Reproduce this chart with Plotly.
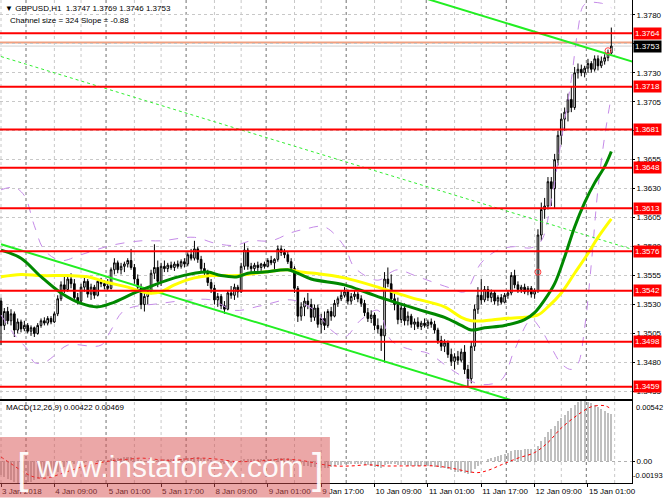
import plotly.graph_objects as go

# ---------------- data ----------------
bar_idx = list(range(184))
opens = [1.3533,1.3512,1.3524,1.3516,1.3522,1.3508,1.3515,1.3509,1.3512,1.3507,1.3510,1.3505,1.3512,1.3516,1.3514,1.3518,
1.3515,1.3522,1.3535,1.3547,1.3543,1.3552,1.3548,1.3536,1.3533,1.3545,1.3550,1.3539,1.3545,1.3538,1.3550,1.3548,
1.3546,1.3544,1.3560,1.3566,1.3560,1.3563,1.3565,1.3568,1.3562,1.3552,1.3545,1.3530,1.3537,1.3541,1.3557,1.3562,
1.3550,1.3563,1.3561,1.3564,1.3562,1.3565,1.3563,1.3567,1.3565,1.3573,1.3570,1.3578,1.3569,1.3561,1.3558,1.3549,
1.3544,1.3534,1.3537,1.3529,1.3526,1.3540,1.3538,1.3545,1.3541,1.3563,1.3577,1.3563,1.3561,1.3564,1.3562,1.3565,
1.3563,1.3568,1.3566,1.3569,1.3578,1.3575,1.3573,1.3567,1.3561,1.3544,1.3520,1.3528,1.3533,1.3530,1.3519,1.3527,
1.3513,1.3518,1.3512,1.3524,1.3520,1.3531,1.3535,1.3538,1.3541,1.3533,1.3537,1.3539,1.3535,1.3531,1.3523,1.3518,
1.3521,1.3512,1.3509,1.3503,1.3552,1.3548,1.3535,1.3530,1.3517,1.3527,1.3516,1.3520,1.3513,1.3515,1.3511,1.3514,
1.3512,1.3515,1.3513,1.3508,1.3499,1.3494,1.3497,1.3487,1.3481,1.3485,1.3482,1.3489,1.3474,1.3466,1.3494,1.3526,
1.3538,1.3534,1.3543,1.3536,1.3540,1.3533,1.3536,1.3532,1.3538,1.3540,1.3555,1.3547,1.3543,1.3545,1.3541,1.3544,
1.3539,1.3542,1.3590,1.3612,1.3615,1.3636,1.3630,1.3655,1.3676,1.3690,1.3696,1.3707,1.3700,1.3730,1.3733,1.3730,
1.3734,1.3738,1.3733,1.3742,1.3736,1.3740,1.3743,1.3747]
highs = [1.3536,1.3527,1.3528,1.3526,1.3524,1.3518,1.3517,1.3516,1.3514,1.3512,1.3511,1.3514,1.3518,1.3519,1.3520,1.3520,
1.3524,1.3538,1.3550,1.3556,1.3555,1.3557,1.3552,1.3540,1.3548,1.3553,1.3552,1.3548,1.3547,1.3552,1.3553,1.3551,
1.3552,1.3562,1.3570,1.3568,1.3566,1.3567,1.3570,1.3578,1.3565,1.3556,1.3548,1.3540,1.3545,1.3560,1.3582,1.3568,
1.3566,1.3568,1.3566,1.3567,1.3567,1.3568,1.3569,1.3570,1.3575,1.3578,1.3585,1.3580,1.3572,1.3566,1.3560,1.3552,
1.3547,1.3540,1.3539,1.3533,1.3542,1.3546,1.3548,1.3547,1.3566,1.3583,1.3579,1.3566,1.3566,1.3567,1.3566,1.3567,
1.3570,1.3572,1.3570,1.3581,1.3581,1.3578,1.3576,1.3570,1.3563,1.3546,1.3532,1.3536,1.3540,1.3535,1.3530,1.3530,
1.3522,1.3524,1.3526,1.3528,1.3534,1.3537,1.3542,1.3545,1.3543,1.3540,1.3542,1.3541,1.3538,1.3534,1.3527,1.3525,
1.3523,1.3518,1.3512,1.3558,1.3562,1.3556,1.3540,1.3536,1.3530,1.3531,1.3524,1.3522,1.3518,1.3519,1.3516,1.3518,
1.3517,1.3518,1.3516,1.3510,1.3503,1.3500,1.3499,1.3492,1.3488,1.3490,1.3492,1.3495,1.3478,1.3498,1.3530,1.3545,
1.3552,1.3546,1.3546,1.3543,1.3542,1.3538,1.3539,1.3540,1.3542,1.3558,1.3560,1.3550,1.3547,1.3548,1.3546,1.3546,
1.3544,1.3595,1.3618,1.3622,1.3640,1.3640,1.3660,1.3680,1.3695,1.3700,1.3712,1.3718,1.3735,1.3738,1.3737,1.3736,
1.3742,1.3740,1.3745,1.3745,1.3744,1.3746,1.3750,1.3769]
lows = [1.3495,1.3508,1.3513,1.3512,1.3502,1.3505,1.3506,1.3507,1.3505,1.3503,1.3502,1.3504,1.3510,1.3512,1.3512,1.3513,
1.3514,1.3520,1.3533,1.3540,1.3541,1.3544,1.3533,1.3530,1.3532,1.3541,1.3536,1.3534,1.3535,1.3537,1.3545,1.3543,
1.3542,1.3543,1.3556,1.3557,1.3556,1.3558,1.3562,1.3560,1.3548,1.3540,1.3526,1.3524,1.3530,1.3539,1.3552,1.3545,
1.3546,1.3558,1.3558,1.3560,1.3559,1.3561,1.3561,1.3562,1.3563,1.3568,1.3568,1.3566,1.3558,1.3555,1.3546,1.3540,
1.3530,1.3528,1.3526,1.3522,1.3525,1.3535,1.3534,1.3536,1.3540,1.3560,1.3560,1.3558,1.3558,1.3559,1.3559,1.3561,
1.3562,1.3564,1.3560,1.3567,1.3572,1.3570,1.3565,1.3558,1.3540,1.3515,1.3516,1.3520,1.3526,1.3515,1.3516,1.3510,
1.3505,1.3508,1.3510,1.3516,1.3519,1.3528,1.3533,1.3536,1.3530,1.3530,1.3534,1.3532,1.3528,1.3520,1.3515,1.3514,
1.3508,1.3505,1.3490,1.3480,1.3545,1.3532,1.3525,1.3513,1.3514,1.3512,1.3512,1.3510,1.3508,1.3509,1.3508,1.3510,
1.3509,1.3510,1.3505,1.3496,1.3490,1.3489,1.3484,1.3477,1.3474,1.3478,1.3480,1.3470,1.3459,1.3462,1.3490,1.3522,
1.3530,1.3532,1.3533,1.3532,1.3530,1.3529,1.3530,1.3531,1.3535,1.3538,1.3544,1.3540,1.3540,1.3539,1.3538,1.3536,
1.3535,1.3540,1.3585,1.3604,1.3612,1.3615,1.3613,1.3650,1.3668,1.3680,1.3688,1.3696,1.3698,1.3725,1.3727,1.3726,
1.3730,1.3730,1.3731,1.3732,1.3734,1.3737,1.3740,1.3746]
closes = [1.3512,1.3524,1.3516,1.3522,1.3508,1.3515,1.3509,1.3512,1.3507,1.3510,1.3505,1.3512,1.3516,1.3514,1.3518,1.3515,
1.3522,1.3535,1.3547,1.3543,1.3552,1.3548,1.3536,1.3533,1.3545,1.3550,1.3539,1.3545,1.3538,1.3550,1.3548,1.3546,
1.3544,1.3560,1.3566,1.3560,1.3563,1.3565,1.3568,1.3562,1.3552,1.3545,1.3530,1.3537,1.3541,1.3557,1.3562,1.3550,
1.3563,1.3561,1.3564,1.3562,1.3565,1.3563,1.3567,1.3565,1.3573,1.3570,1.3578,1.3569,1.3561,1.3558,1.3549,1.3544,
1.3534,1.3537,1.3529,1.3526,1.3540,1.3538,1.3545,1.3541,1.3563,1.3577,1.3563,1.3561,1.3564,1.3562,1.3565,1.3563,
1.3568,1.3566,1.3569,1.3578,1.3575,1.3573,1.3567,1.3561,1.3544,1.3520,1.3528,1.3533,1.3530,1.3519,1.3527,1.3513,
1.3518,1.3512,1.3524,1.3520,1.3531,1.3535,1.3538,1.3541,1.3533,1.3537,1.3539,1.3535,1.3531,1.3523,1.3518,1.3521,
1.3512,1.3509,1.3503,1.3552,1.3548,1.3535,1.3530,1.3517,1.3527,1.3516,1.3520,1.3513,1.3515,1.3511,1.3514,1.3512,
1.3515,1.3513,1.3508,1.3499,1.3494,1.3497,1.3487,1.3481,1.3485,1.3482,1.3489,1.3474,1.3466,1.3494,1.3526,1.3538,
1.3534,1.3543,1.3536,1.3540,1.3533,1.3536,1.3532,1.3538,1.3540,1.3555,1.3547,1.3543,1.3545,1.3541,1.3544,1.3539,
1.3542,1.3590,1.3612,1.3615,1.3636,1.3630,1.3655,1.3676,1.3690,1.3696,1.3707,1.3700,1.3730,1.3733,1.3730,1.3734,
1.3738,1.3733,1.3742,1.3736,1.3740,1.3743,1.3747,1.3753]

# moving averages (bar index, price)
ma_green_x = [0,6,12,18,24,29,33,40,46,52,58,62,66,71,74,79,86,89,93,103,110,116,126,133,138,141,145,151,157,160,163,166,169,172,175,178,181,183]
ma_green_y = [1.3577,1.3570,1.3554,1.3540,1.3531,1.3528,1.3531,1.3540,1.3547,1.3553,1.3557,1.3558,1.3555,1.3554,1.3557,1.3558,1.3560,1.3557,1.3552,1.3547,1.3540,1.3534,1.3525,1.3519,1.3512,1.3508,1.3510,1.3512,1.3517,1.3523,1.3534,1.3548,1.3571,1.3597,1.3618,1.3635,1.3649,1.3662]
ma_yellow_x = [0,6,12,20,26,32,38,44,48,52,58,63,71,79,86,90,94,103,113,123,133,138,141,145,151,157,161,164,168,172,176,179,183]
ma_yellow_y = [1.3554,1.3556,1.3555,1.3555,1.3554,1.3549,1.3545,1.3540,1.3541,1.3547,1.3553,1.3555,1.3555,1.3558,1.3560,1.3558,1.3557,1.3553,1.3545,1.3536,1.3528,1.3519,1.3516,1.3516,1.3518,1.3519,1.3521,1.3528,1.3540,1.3557,1.3574,1.3588,1.3604]

# bands
band_up_x = [0,4,7,10,13,18,24,33,42,48,58,64,70,75,81,87,91,97,103,106,113,117,119,125,135,139,144,149,154,159,162,165,168,171,173,175,180,183]
band_up_y = [1.3629,1.3631,1.3624,1.3598,1.3577,1.3568,1.3573,1.3581,1.3585,1.3585,1.3588,1.3583,1.3581,1.3585,1.3585,1.3592,1.3595,1.3597,1.3580,1.3562,1.3551,1.3558,1.3560,1.3554,1.3544,1.3541,1.3566,1.3577,1.3580,1.3579,1.3585,1.3620,1.3672,1.3724,1.3767,1.3789,1.3790,1.3786]
band_lo_x = [0,4,8,10,13,16,20,30,33,37,48,57,63,70,78,87,94,99,103,108,113,117,123,128,135,139,144,150,154,159,162,165,168,171,173,175,177,179,181,183]
band_lo_y = [1.3521,1.3504,1.3491,1.3480,1.3480,1.3486,1.3495,1.3495,1.3508,1.3525,1.3531,1.3534,1.3534,1.3525,1.3529,1.3534,1.3525,1.3508,1.3502,1.3517,1.3525,1.3499,1.3491,1.3488,1.3474,1.3467,1.3461,1.3465,1.3491,1.3517,1.3508,1.3493,1.3479,1.3474,1.3479,1.3510,1.3565,1.3630,1.3675,1.3710]

# equidistant channel (Channel size = 324, Slope = -0.88)
channel_x = [0, 190]
channel_low = [1.3582, 1.3415]
channel_size = 0.0324

levels = [1.3764, 1.3718, 1.3681, 1.3648, 1.3613, 1.3576, 1.3542, 1.3498, 1.3459]
bid_price = 1.3753
ask_price = 1.3756

price_ticks = [1.3780, 1.3755, 1.3730, 1.3705, 1.3680, 1.3655, 1.3630, 1.3605, 1.3580, 1.3555, 1.3530, 1.3505, 1.3480, 1.3455]
time_tick_idx = [0, 16, 32, 48, 64, 80, 96, 112, 128, 144, 160, 176]
time_tick_lab = ["3 Jan 2018", "4 Jan 09:00", "5 Jan 01:00", "5 Jan 17:00", "8 Jan 09:00", "9 Jan 01:00",
                 "9 Jan 17:00", "10 Jan 09:00", "11 Jan 01:00", "11 Jan 17:00", "12 Jan 09:00", "15 Jan 01:00"]

# MACD in units of 0.00001
macd_hist = [-120,-140,-160,-170,-180,-190,-190,-190,-180,-180,-170,-160,-150,-140,-130,-120,-110,-90,-70,-50,-40,-30,-20,-20,-10,-10,0,0,0,10,
 10,10,10,20,30,30,30,40,40,40,30,20,10,0,0,10,10,10,10,20,20,20,20,20,20,30,30,30,40,40,30,30,20,10,0,-10,-10,-20,-20,-10,-10,0,10,20,20,20,20,20,20,20,
 20,20,20,30,30,30,30,20,10,-10,-30,-40,-40,-50,-50,-60,-60,-60,-60,-50,-40,-30,-30,-20,-20,-20,-20,-20,-20,-30,-30,-40,-50,-50,-60,-30,-20,-20,-20,-30,
 -30,-30,-40,-40,-40,-40,-40,-40,-40,-40,-50,-50,-60,-60,-70,-80,-90,-90,-90,-100,-110,-100,-70,-40,-20,0,20,30,40,50,60,70,80,90,100,100,100,110,110,110,
 110,140,180,220,260,290,320,360,390,420,450,480,510,530,542,540,530,520,510,490,470,450,435,422]
signal_x = [0,3,6,9,12,15,18,21,24,27,30,34,38,42,46,50,55,60,65,70,75,80,85,90,95,100,105,110,115,120,125,130,135,140,143,146,150,155,160,164,168,174,177,181,183]
signal_y = [40,-20,-80,-130,-150,-140,-110,-80,-50,-30,-10,10,20,30,20,10,20,30,20,0,0,10,20,10,-20,-40,-40,-30,-40,-40,-40,-40,-60,-90,-100,-80,-30,30,80,170,300,440,490,500,469]
macd_hist = [v / 100000 for v in macd_hist]
signal_y = [v / 100000 for v in signal_y]
macd_top, macd_bottom = 0.00542, -0.00193

signal_marks_x = [161, 182]
signal_marks_y = [1.3558, 1.3749]

# ---------------- figure ----------------
FONT = "Liberation Sans"
fig = go.Figure()

fig.add_trace(go.Scatter(x=band_up_x, y=band_up_y, mode="lines", line=dict(color="#C58BE8", width=1, dash="dash", shape="spline"), hoverinfo="skip"))
fig.add_trace(go.Scatter(x=band_lo_x, y=band_lo_y, mode="lines", line=dict(color="#C58BE8", width=1, dash="dash", shape="spline"), hoverinfo="skip"))

ch_up = [v + channel_size for v in channel_low]
ch_mid = [v + channel_size / 2 for v in channel_low]
fig.add_trace(go.Scatter(x=channel_x, y=ch_mid, mode="lines", line=dict(color="#33EE33", width=1, dash="dot")))
fig.add_trace(go.Scatter(x=channel_x, y=channel_low, mode="lines", line=dict(color="#22EE22", width=2)))
fig.add_trace(go.Scatter(x=channel_x, y=ch_up, mode="lines", line=dict(color="#22EE22", width=2)))

fig.add_trace(go.Scatter(x=ma_yellow_x, y=ma_yellow_y, mode="lines", line=dict(color="#FFFF00", width=3, shape="spline")))
fig.add_trace(go.Scatter(x=ma_green_x, y=ma_green_y, mode="lines", line=dict(color="#008800", width=3, shape="spline")))

fig.add_trace(go.Candlestick(x=bar_idx, open=opens, high=highs, low=lows, close=closes,
                             increasing=dict(line=dict(color="black", width=1), fillcolor="white"),
                             decreasing=dict(line=dict(color="black", width=1), fillcolor="black"),
                             whiskerwidth=0, hoverinfo="skip"))
fig.add_trace(go.Scatter(x=signal_marks_x, y=signal_marks_y, mode="markers",
                         marker=dict(symbol="circle-open", color="#FF4040", size=6, line=dict(width=1))))

fig.add_trace(go.Bar(x=bar_idx, y=macd_hist, xaxis="x2", yaxis="y2", marker=dict(color="#C0C0C0", line=dict(width=0)), width=0.6))
fig.add_trace(go.Scatter(x=signal_x, y=signal_y, xaxis="x2", yaxis="y2", mode="lines",
                         line=dict(color="red", width=1, dash="dot", shape="spline")))

shapes = []
# vertical grid & day separators
for k in range(0, 190, 8):
    if k % 24 == 8:
        continue
    shapes.append(dict(type="line", xref="x", yref="paper", x0=k, x1=k, y0=0, y1=1,
                       line=dict(color="#C8C8C8", width=1, dash="dot"), layer="below"))
for k in range(0, 8):
    xs = 7.5 + 24 * k
    shapes.append(dict(type="line", xref="x", yref="paper", x0=xs, x1=xs, y0=0, y1=1,
                       line=dict(color="#707070", width=1, dash="dot"), layer="below"))
# price levels
for lv in levels:
    shapes.append(dict(type="line", xref="paper", yref="y", x0=0, x1=1, y0=lv, y1=lv,
                       line=dict(color="#FF0000", width=2), layer="above"))
shapes.append(dict(type="line", xref="paper", yref="y", x0=0, x1=1, y0=ask_price, y1=ask_price,
                   line=dict(color="#F0A080", width=2), layer="below"))
shapes.append(dict(type="line", xref="paper", yref="y", x0=0, x1=1, y0=bid_price, y1=bid_price,
                   line=dict(color="#D0D0D0", width=1), layer="below"))
# watermark band
shapes.append(dict(type="rect", xref="paper", yref="paper", x0=0, x1=0.522, y0=-0.03, y1=0.095,
                   fillcolor="rgba(215,80,80,0.5)", line=dict(width=0), layer="above"))

annotations = []
for lv in levels:
    annotations.append(dict(xref="paper", yref="y", x=1, y=lv, xanchor="left", yanchor="middle", xshift=1,
                            text="%.4f" % lv, showarrow=False, bgcolor="#FF0000",
                            font=dict(family=FONT, size=8, color="white"), borderpad=1))
annotations.append(dict(xref="paper", yref="y", x=1, y=bid_price, xanchor="left", yanchor="middle", xshift=1,
                        text="%.4f" % bid_price, showarrow=False, bgcolor="black",
                        font=dict(family=FONT, size=8, color="white"), borderpad=1))
annotations.append(dict(xref="paper", yref="y2", x=1, y=macd_top, xanchor="left", yanchor="middle", xshift=2, yshift=-6,
                        text="%.5f" % macd_top, showarrow=False, font=dict(family=FONT, size=7.5, color="black")))
annotations.append(dict(xref="paper", yref="y2", x=1, y=macd_bottom, xanchor="left", yanchor="middle", xshift=-1, yshift=8,
                        text="%.5f" % macd_bottom, showarrow=False, font=dict(family=FONT, size=7.5, color="black")))
annotations.append(dict(xref="paper", yref="paper", x=0, y=1, xanchor="left", yanchor="top", xshift=3, yshift=-2,
                        text="▼ GBPUSD,H1  %.4f %.4f %.4f %.4f" % (opens[-1], highs[-1], lows[-1], closes[-1]),
                        showarrow=False, font=dict(family=FONT, size=8, color="black")))
annotations.append(dict(xref="paper", yref="paper", x=0, y=1, xanchor="left", yanchor="top", xshift=8, yshift=-14,
                        text="Channel size = 324 Slope = -0.88", showarrow=False,
                        font=dict(family=FONT, size=8, color="black")))
annotations.append(dict(xref="paper", yref="y2", x=0, y=macd_top, xanchor="left", yanchor="middle", xshift=4, yshift=-6,
                        text="MACD(12,26,9) %.5f %.5f" % (macd_hist[-1], signal_y[-1]), showarrow=False,
                        font=dict(family=FONT, size=8, color="black")))
# watermark text
annotations.append(dict(xref="paper", yref="paper", x=0.269, y=0.034, xanchor="center", yanchor="middle",
                        text="www.instaforex.com", showarrow=False,
                        font=dict(family=FONT, size=30, color="rgba(255,255,255,0.95)")))
annotations.append(dict(xref="paper", yref="paper", x=0.036, y=0.03, xanchor="center", yanchor="middle",
                        text="[", showarrow=False, font=dict(family=FONT, size=42, color="rgba(255,255,255,0.95)")))
annotations.append(dict(xref="paper", yref="paper", x=0.503, y=0.03, xanchor="center", yanchor="middle",
                        text="]", showarrow=False, font=dict(family=FONT, size=42, color="rgba(255,255,255,0.95)")))

fig.update_layout(
    width=665, height=499, margin=dict(l=0, r=33, t=0, b=16),
    paper_bgcolor="white", plot_bgcolor="white", showlegend=False, template="none",
    font=dict(family=FONT, size=8, color="black"),
    bargap=0,
    xaxis=dict(domain=[0, 1], range=[-0.3, 189.2], anchor="y", showticklabels=False, showgrid=False,
               zeroline=False, showline=True, linecolor="black", linewidth=1, mirror=True,
               rangeslider=dict(visible=False), fixedrange=True),
    xaxis2=dict(domain=[0, 1], range=[-0.3, 189.2], anchor="y2", matches="x", tickmode="array",
                tickvals=time_tick_idx, ticktext=time_tick_lab, ticklabelposition="outside right",
                tickangle=0, ticks="outside", ticklen=3, tickcolor="black", showgrid=False, zeroline=False,
                showline=True, linecolor="black", linewidth=1, mirror=True,
                tickfont=dict(family=FONT, size=8, color="black")),
    yaxis=dict(domain=[0.17391, 1], range=[1.344851, 1.379277], side="right", tickmode="array",
               tickvals=price_ticks, ticktext=["%.4f" % v for v in price_ticks], ticks="outside", ticklen=2,
               tickcolor="black", showgrid=True, gridcolor="#C8C8C8", griddash="dot", zeroline=False,
               showline=True, linecolor="black", linewidth=1, mirror=True,
               tickfont=dict(family=FONT, size=8, color="black")),
    yaxis2=dict(domain=[0, 0.16977], range=[macd_bottom, macd_top], side="right", tickmode="array",
                tickvals=[0], ticktext=["0.00"], ticks="outside", ticklen=2, tickcolor="black",
                showgrid=True, gridcolor="#B0B0B0", griddash="dot", zeroline=False,
                showline=True, linecolor="black", linewidth=1, mirror=True,
                tickfont=dict(family=FONT, size=8, color="black")),
    shapes=shapes, annotations=annotations,
)

fig.write_html("out.html", config={"displayModeBar": False},
               post_script="document.body.style.margin='0';document.body.style.overflow='hidden';")
